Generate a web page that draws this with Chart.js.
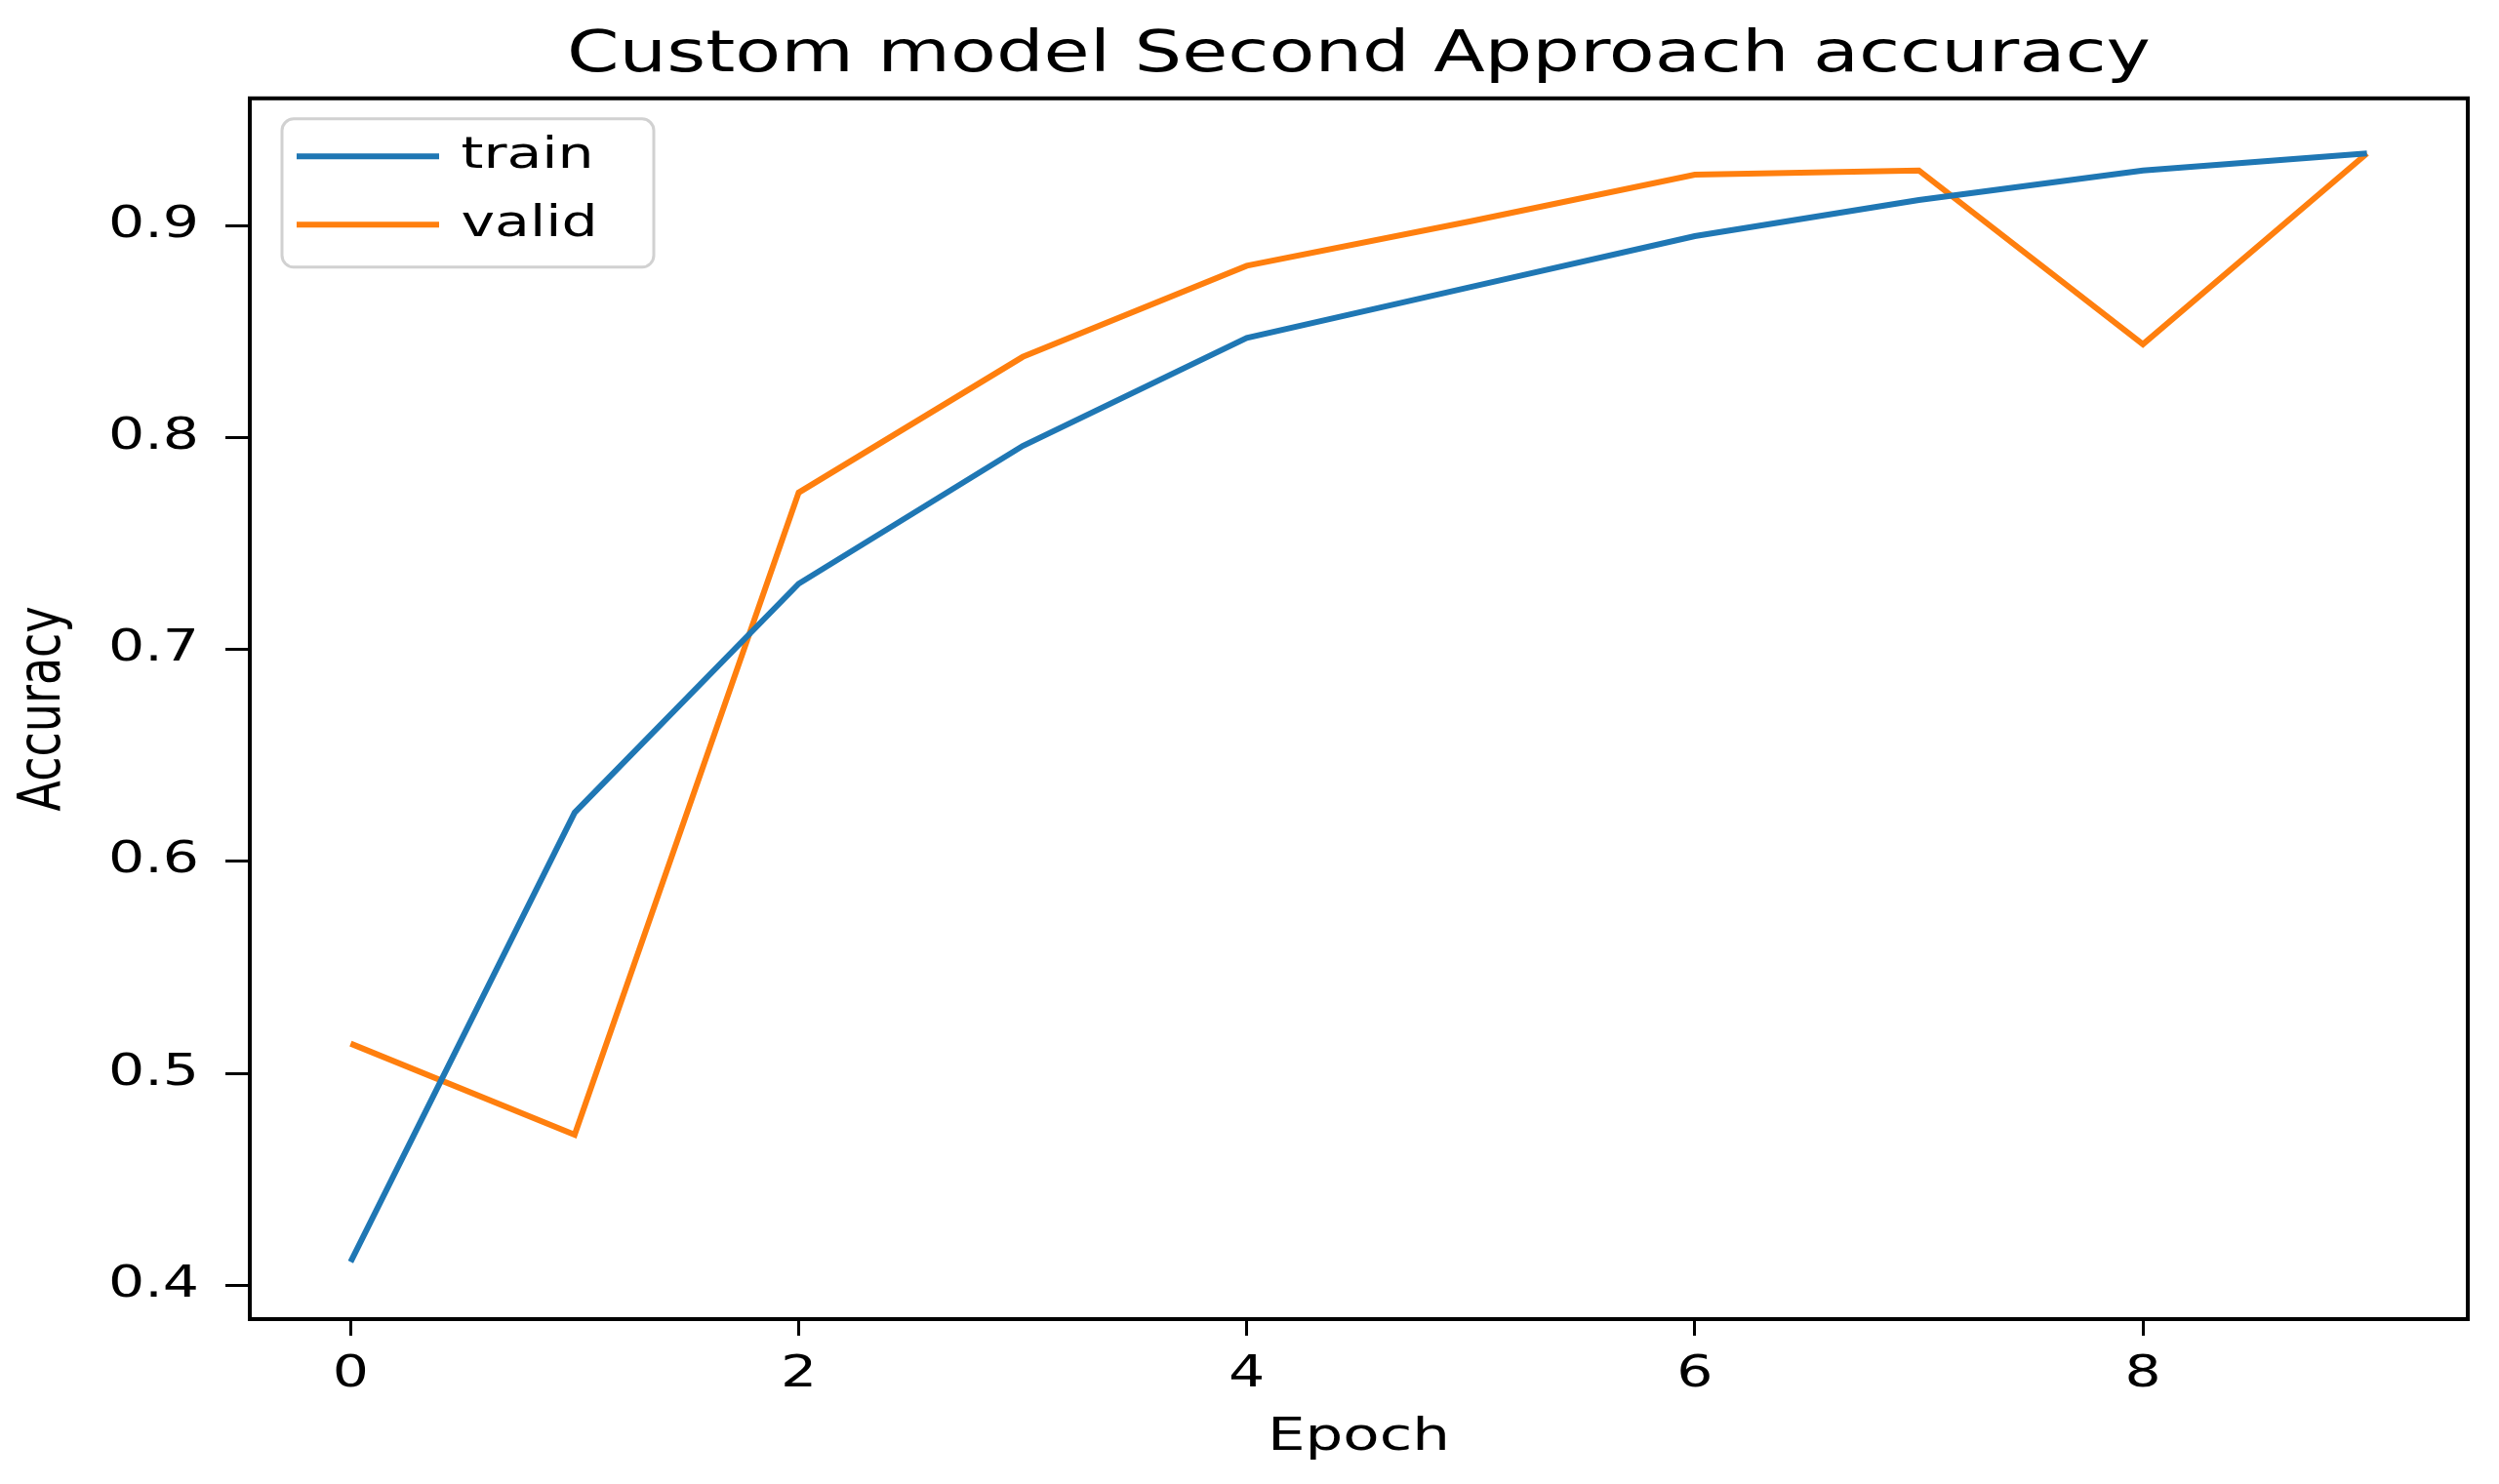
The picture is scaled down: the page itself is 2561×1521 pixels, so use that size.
<!DOCTYPE html>
<html>
<head>
<meta charset="utf-8">
<script src="https://cdn.jsdelivr.net/npm/chart.js@4.4.0/dist/chart.umd.min.js"></script>
<style>
  html, body { margin: 0; padding: 0; background: #fff; overflow: hidden; }
  canvas { display: block; }
</style>
</head>
<body>
<canvas id="accChart" width="2561" height="1521" style="width:2561px;height:1521px"></canvas>
<script>
const epochs = [0, 1, 2, 3, 4, 5, 6, 7, 8, 9];
const trainAcc = [0.411, 0.623, 0.731, 0.796, 0.847, 0.871, 0.895, 0.912, 0.926, 0.934];
const validAcc = [0.514, 0.471, 0.774, 0.838, 0.881, 0.902, 0.924, 0.926, 0.844, 0.934];
const xTicks = [0, 2, 4, 6, 8];
const yTicks = [0.4, 0.5, 0.6, 0.7, 0.8, 0.9];

const FONT = "'DejaVu Sans', sans-serif";
const STRETCH = 1.3; // the original picture is stretched sideways
Chart.defaults.font.family = FONT;
Chart.defaults.color = '#000';

// widen every text run horizontally (on screen), like the reference
const stretchText = {
  id: 'stretchText',
  beforeDraw(chart) {
    const c = chart.ctx;
    if (c._plainFillText) return;
    const plain = c.fillText;
    c._plainFillText = plain;
    c.fillText = function (text, x, y) {
      const m = this.getTransform();
      this.save();
      this.translate(x, y);
      if (Math.abs(m.b) > 0.5) this.scale(1, STRETCH);
      else this.scale(STRETCH, 1);
      plain.call(this, text, 0, 0);
      this.restore();
    };
  }
};

// box round the plot + legend frame (matplotlib style)
const frameBox = {
  id: 'frameBox',
  afterLayout(chart) {
    const a = chart.chartArea;
    const lg = chart.legend;
    lg.left = a.left + 23;
    lg.top = a.top + 12;
    lg.bottom = a.bottom;
  },
  afterDraw(chart) {
    const { ctx, chartArea: a } = chart;
    ctx.save();
    ctx.strokeStyle = 'rgba(204,204,204,0.9)';
    ctx.lineWidth = 3;
    ctx.beginPath();
    ctx.roundRect(a.left + 33, a.top + 21, 381, 152, 12);
    ctx.stroke();
    ctx.strokeStyle = '#000';
    ctx.lineWidth = 4;
    ctx.strokeRect(a.left, a.top, a.right - a.left, a.bottom - a.top);
    ctx.restore();
  }
};

const ctx = document.getElementById('accChart').getContext('2d');

const accChart = new Chart(ctx, {
  type: 'line',
  data: {
    datasets: [
      {
        label: 'train',
        data: epochs.map((e, i) => ({ x: e, y: trainAcc[i] })),
        borderColor: '#1f77b4',
        backgroundColor: '#1f77b4',
        borderWidth: 6,
        pointRadius: 0,
        pointStyle: 'line',
        tension: 0
      },
      {
        label: 'valid',
        data: epochs.map((e, i) => ({ x: e, y: validAcc[i] })),
        borderColor: '#ff7f0e',
        backgroundColor: '#ff7f0e',
        borderWidth: 6,
        pointRadius: 0,
        pointStyle: 'line',
        tension: 0
      }
    ]
  },
  options: {
    responsive: false,
    animation: false,
    layout: { padding: { left: 0, right: 32, top: 0, bottom: 0 } },
    plugins: {
      title: {
        display: true,
        fullSize: false,
        text: 'Custom model Second Approach accuracy',
        font: { size: 59, weight: 'normal' },
        padding: { top: 22, bottom: 8 }
      },
      legend: {
        position: 'chartArea',
        align: 'start',
        labels: {
          usePointStyle: true,
          pointStyleWidth: 146,
          padding: 25,
          font: { size: 45 }
        }
      },
      tooltip: { enabled: false }
    },
    scales: {
      x: {
        type: 'linear',
        min: -0.45,
        max: 9.45,
        afterBuildTicks: s => { s.ticks = xTicks.map(v => ({ value: v })); },
        afterFit: s => { s.height = 169; },
        grid: { drawOnChartArea: false, tickLength: 17, tickColor: '#000', tickWidth: 3 },
        border: { display: true, color: '#000', width: 4 },
        ticks: { font: { size: 45 }, padding: 13, maxRotation: 0, callback: v => String(v) },
        title: { display: true, text: 'Epoch', font: { size: 47 }, padding: { top: 0, bottom: 19 } }
      },
      y: {
        type: 'linear',
        min: 0.384,
        max: 0.960,
        afterBuildTicks: s => { s.ticks = yTicks.map(v => ({ value: v })); },
        afterFit: s => { s.width = 256; },
        grid: { drawOnChartArea: false, tickLength: 25, tickColor: '#000', tickWidth: 3 },
        border: { display: true, color: '#000', width: 4 },
        ticks: { font: { size: 45 }, padding: 27, callback: v => v.toFixed(1) },
        title: { display: true, text: 'Accuracy', font: { size: 46 }, padding: { top: 18, bottom: 0 } }
      }
    }
  },
  plugins: [stretchText, frameBox]
});
</script>
</body>
</html>
